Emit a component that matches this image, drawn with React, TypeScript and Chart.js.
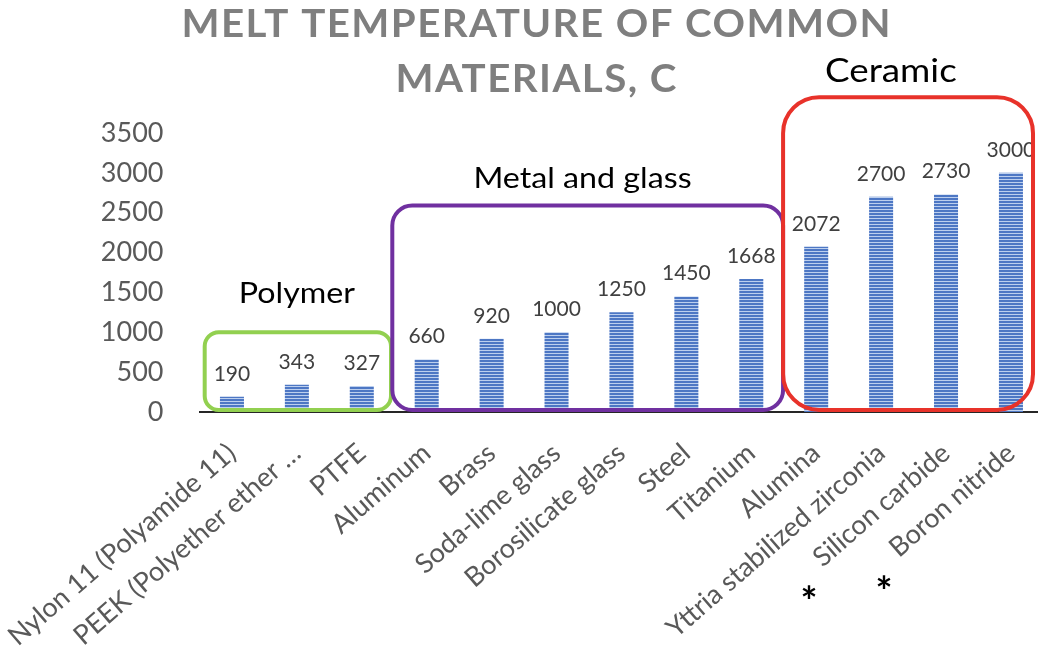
import React, { useEffect, useRef } from "react";
import { Chart, registerables } from "chart.js";

Chart.register(...registerables);

// ---------- data ----------
const categories = [
  "Nylon 11 (Polyamide 11)",
  "PEEK (Polyether ether …",
  "PTFE",
  "Aluminum",
  "Brass",
  "Soda-lime glass",
  "Borosilicate glass",
  "Steel",
  "Titanium",
  "Alumina",
  "Yttria stabilized zirconia",
  "Silicon carbide",
  "Boron nitride",
];
const meltTemps = [190, 343, 327, 660, 920, 1000, 1250, 1450, 1668, 2072, 2700, 2730, 3000];
const yTicks = [0, 500, 1000, 1500, 2000, 2500, 3000, 3500];
const titleLines = ["MELT TEMPERATURE OF COMMON", "MATERIALS, C"];
const groupNames = ["Polymer", "Metal and glass", "Ceramic"];
const groupFirst = [0, 3, 9];
const groupLast = [2, 8, 12];
const starredCategories = [11, 12];

// ---------- annotation styling ----------
const GROUP_STYLE = [
  { color: "#92d050", topValue: 1000, leftPad: 0.42, rightPad: 0.45, radius: 14, labelAt: 1.0, labelValue: 1368, fontSize: 28 },
  { color: "#7030a0", topValue: 2590, leftPad: 0.53, rightPad: 0.49, radius: 20, labelAt: 5.4, labelValue: 2810, fontSize: 28 },
  { color: "#e8322a", topValue: 3950, leftPad: 0.51, rightPad: 0.34, radius: 36, labelAt: 10.15, labelValue: 4140, fontSize: 32 },
];
const STAR_OFFSETS = [
  { dx: -137, dy: 180 },
  { dx: -127, dy: 170 },
];
const FONT = "Lato";
const STRETCH = 1.15;
const TITLE_STRETCH = 1.06;

const annotationPlugin = {
  id: "annotations",
  afterDraw(chart: any) {
    const { ctx } = chart;
    const xs = chart.scales.x;
    const ys = chart.scales.y;
    const catW = xs.getPixelForValue(1) - xs.getPixelForValue(0);

    ctx.save();
    // data labels
    ctx.font = `21px ${FONT}`;
    ctx.fillStyle = "#404040";
    ctx.textAlign = "center";
    ctx.textBaseline = "alphabetic";
    const meta = chart.getDatasetMeta(0);
    meta.data.forEach((bar: any, i: number) => {
      ctx.fillText(String(meltTemps[i]), bar.x, bar.y - 16);
    });

    // group boxes
    const bottom = ys.getPixelForValue(0) - 2;
    GROUP_STYLE.forEach((g, i) => {
      const left = xs.getPixelForValue(groupFirst[i]) - g.leftPad * catW;
      const right = xs.getPixelForValue(groupLast[i]) + g.rightPad * catW;
      const top = ys.getPixelForValue(g.topValue);
      ctx.beginPath();
      ctx.lineWidth = 4;
      ctx.strokeStyle = g.color;
      ctx.roundRect(left, top, right - left, bottom - top, g.radius);
      ctx.stroke();

      ctx.save();
      ctx.font = `${g.fontSize}px ${FONT}`;
      ctx.fillStyle = "#000000";
      ctx.textAlign = "center";
      ctx.textBaseline = "alphabetic";
      ctx.translate(xs.getPixelForValue(g.labelAt), ys.getPixelForValue(g.labelValue));
      ctx.scale(STRETCH, 1);
      ctx.fillText(groupNames[i], 0, 0);
      ctx.restore();
    });

    // asterisks
    ctx.font = `bold 40px ${FONT}`;
    ctx.fillStyle = "#000000";
    ctx.textAlign = "center";
    const m = ctx.measureText("*");
    const baseAdj = (m.actualBoundingBoxAscent - m.actualBoundingBoxDescent) / 2;
    starredCategories.forEach((idx, i) => {
      const cx = xs.getPixelForValue(idx) + STAR_OFFSETS[i].dx;
      const cy = ys.getPixelForValue(0) + STAR_OFFSETS[i].dy;
      ctx.fillText("*", cx, cy + baseAdj);
    });

    // title
    ctx.font = `bold 38px ${FONT}`;
    ctx.fillStyle = "#7f7f7f";
    ctx.textAlign = "left";
    const raw = ctx.measureText(titleLines[0]).width;
    const target = 709;
    const spacing = (target / TITLE_STRETCH - raw) / (titleLines[0].length - 1);
    ctx.letterSpacing = `${spacing}px`;
    const centerX = 536;
    const baselines = [37, 92];
    titleLines.forEach((line, i) => {
      const w = ctx.measureText(line).width - spacing;
      ctx.save();
      ctx.translate(centerX, baselines[i]);
      ctx.scale(TITLE_STRETCH, 1);
      ctx.fillText(line, -w / 2, 0);
      ctx.restore();
    });
    ctx.letterSpacing = "0px";
    ctx.restore();
  },
};

export default function App() {
  const ref = useRef<HTMLCanvasElement>(null);

  useEffect(() => {
    const canvas = ref.current!;
    const ctx = canvas.getContext("2d")!;
    const pc = document.createElement("canvas");
    pc.width = 4;
    pc.height = 3;
    const p = pc.getContext("2d")!;
    p.fillStyle = "#4d77c4";
    p.fillRect(0, 0, 4, 3);
    p.fillStyle = "#bccfee";
    p.fillRect(0, 2, 4, 1);
    const pattern = ctx.createPattern(pc, "repeat")!;

    const chart = new Chart(canvas, {
      type: "bar",
      data: {
        labels: categories,
        datasets: [
          {
            data: meltTemps,
            backgroundColor: pattern as any,
            borderWidth: 0,
            barPercentage: 0.37,
            categoryPercentage: 1,
          },
        ],
      },
      options: {
        animation: false,
        responsive: false,
        devicePixelRatio: 1,
        layout: { padding: { left: 0, right: 6.6, top: 133, bottom: 0 } },
        plugins: {
          legend: { display: false },
          tooltip: { enabled: false },
          title: { display: false },
        },
        scales: {
          x: {
            grid: { display: false, drawTicks: false },
            border: { display: true, color: "#262626", width: 2 },
            ticks: {
              autoSkip: false,
              minRotation: 41,
              maxRotation: 41,
              padding: 25,
              color: "#595959",
              font: { family: FONT, size: 27 },
            },
            afterFit: (s: any) => {
              s.height = 253;
              s.paddingLeft = 0;
              s.paddingRight = 0;
            },
          },
          y: {
            min: 0,
            max: 3500,
            grid: { display: false, drawTicks: false },
            border: { display: false },
            ticks: {
              padding: 36,
              color: "#595959",
              font: { family: FONT, size: 27 },
              callback: (v: any) => String(v),
            },
            afterBuildTicks: (s: any) => {
              s.ticks = yTicks.map((v) => ({ value: v }));
            },
            afterFit: (s: any) => {
              s.width = 199.5;
              s.paddingTop = 0;
              s.paddingBottom = 0;
            },
          },
        },
      },
      plugins: [annotationPlugin],
    });
    return () => chart.destroy();
  }, []);

  return (
    <div style={{ position: "fixed", left: 0, top: 0, width: 1050, height: 665, background: "#fff" }}>
      <canvas ref={ref} width={1050} height={665} style={{ width: 1050, height: 665, display: "block" }} />
    </div>
  );
}
